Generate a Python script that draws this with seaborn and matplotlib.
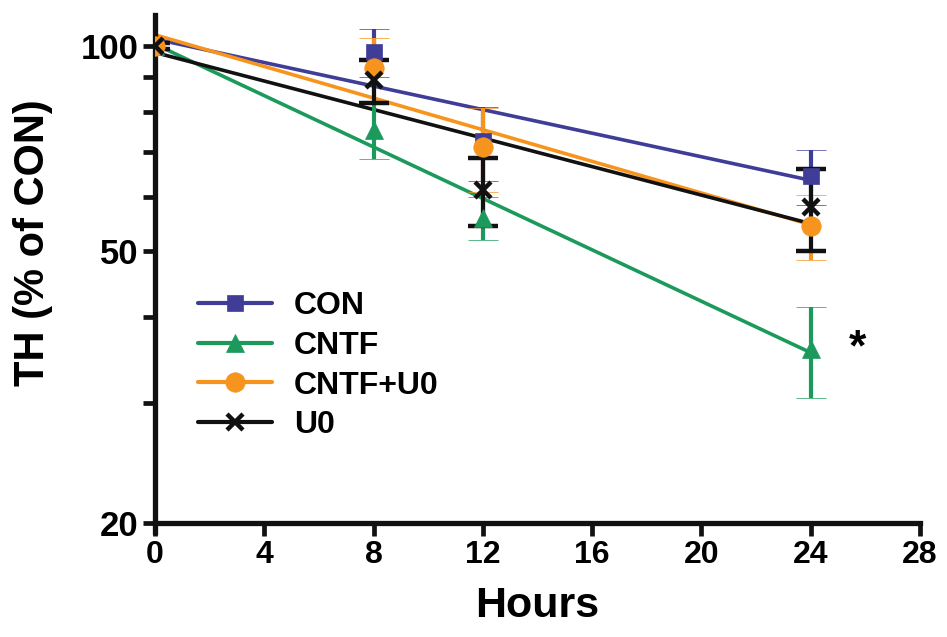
import numpy as np
import matplotlib
matplotlib.use("Agg")
import matplotlib.pyplot as plt
from matplotlib.lines import Line2D
from matplotlib.ticker import FixedLocator, NullFormatter, FixedFormatter
import seaborn as sns

# ── data ────────────────────────────────────────────────────
hours = [0, 8, 12, 24]
groups = ["CON", "CNTF", "CNTF+U0", "U0"]
con_mean = [100, 98, 72.5, 64.5]
con_err = [1, 8, 9, 6]
cntf_mean = [100, 75.3, 56, 36]
cntf_err = [1, 7, 4, 5.5]
cntfu0_mean = [100, 92.8, 71, 54.5]
cntfu0_err = [1, 10, 10, 6]
u0_mean = [100, 89, 61.5, 58]
u0_err = [1, 6.5, 7, 8]

colors = ["#3f3d98", "#1c9a5c", "#f7941d", "#111111"]
markers = ["s", "^", "o", "x"]
msizes = [12, 13, 14, 12]

sns.set_theme(style="ticks")
plt.rcParams["font.family"] = ["Liberation Sans", "DejaVu Sans"]
plt.rcParams["font.weight"] = "bold"
plt.rcParams["text.color"] = "black"
plt.rcParams["axes.labelcolor"] = "black"
plt.rcParams["xtick.labelcolor"] = "black"
plt.rcParams["ytick.labelcolor"] = "black"

fig = plt.figure(figsize=(9.47, 6.37), dpi=100)
ax = fig.add_axes([0.1637, 0.165, 0.8078, 0.8114])

series = [
    (con_mean, con_err),
    (cntf_mean, cntf_err),
    (cntfu0_mean, cntfu0_err),
    (u0_mean, u0_err),
]

handles = []
for name, (m, e), c, mk, ms in zip(groups, series, colors, markers, msizes):
    # fitted exponential decay (straight line on log axis)
    slope, icpt = np.polyfit(hours, np.log10(m), 1)
    tfit = np.array([min(hours), max(hours)])
    sns.lineplot(x=tfit, y=10 ** (icpt + slope * tfit), ax=ax, color=c,
                 linewidth=2.6, legend=False)
    ax.errorbar(hours, m, yerr=e, fmt=mk, color=c, markersize=ms,
                markeredgewidth=3.2 if mk == "x" else 0.5, elinewidth=3,
                capsize=11, capthick=3, zorder=3)
    handles.append(Line2D([0], [0], color=c, marker=mk, markersize=ms,
                          markeredgewidth=3.2 if mk == "x" else 0.5,
                          linewidth=3, label=name))

ax.set_yscale("log")
ax.set_xlim(0, 28)
ax.set_ylim(19.4, 111)
ax.spines["bottom"].set_position(("data", 20))
ax.spines["top"].set_visible(False)
ax.spines["right"].set_visible(False)
for s in ["left", "bottom"]:
    ax.spines[s].set_linewidth(3.8)
    ax.spines[s].set_color("#111111")

ax.set_xticks(range(0, 29, 4))
ax.yaxis.set_major_locator(FixedLocator([20, 50, 100]))
ax.yaxis.set_major_formatter(FixedFormatter(["20", "50", "100"]))
ax.yaxis.set_minor_locator(FixedLocator([30, 40, 60, 70, 80, 90]))
ax.yaxis.set_minor_formatter(NullFormatter())
ax.tick_params(axis="both", which="both", length=9, width=3.4,
               color="#111111", pad=3)
ax.tick_params(axis="x", labelsize=23)
ax.tick_params(axis="y", labelsize=25)
for lab in ax.get_xticklabels() + ax.get_yticklabels():
    lab.set_fontweight("bold")

ax.set_xlabel("Hours", fontsize=31, fontweight="bold", labelpad=12)
ax.set_ylabel("TH (% of CON)", fontsize=30, fontweight="bold")
ax.yaxis.set_label_coords(-0.133, 0.56)

ax.legend(handles=handles, loc="upper left", bbox_to_anchor=(0.04, 0.49),
          frameon=False, handlelength=2.3, handletextpad=0.7,
          labelspacing=0.3, borderaxespad=0,
          prop={"weight": "bold", "size": 23})

ax.text(25.7, 36, "*", fontsize=32, fontweight="bold", ha="center",
        va="center")

fig.savefig("out.png", dpi=100)
